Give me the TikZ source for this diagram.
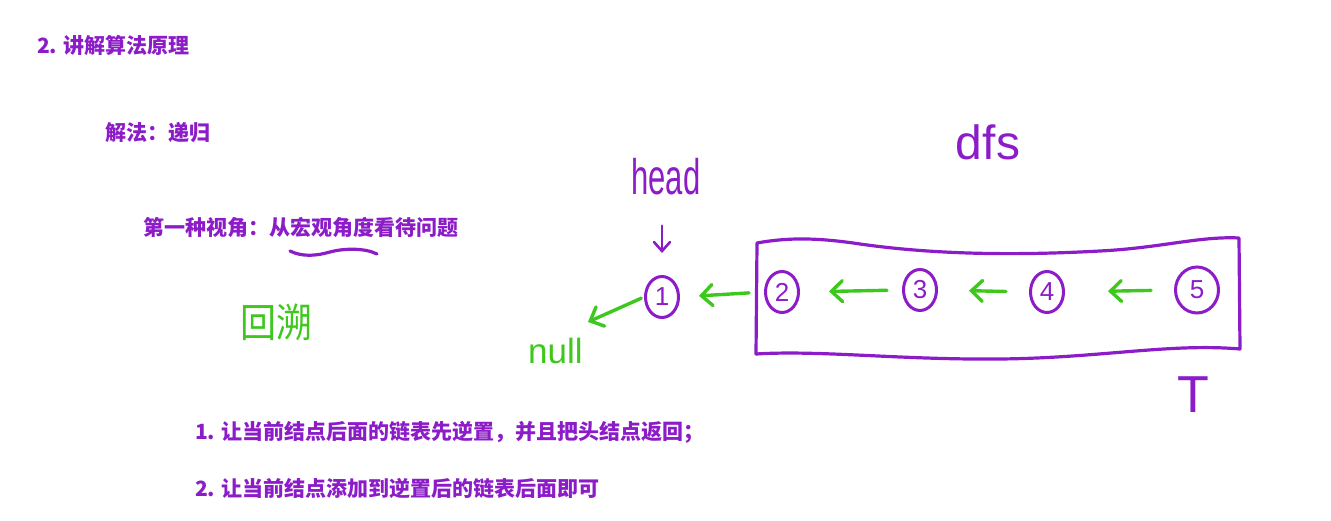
\documentclass[tikz,border=0pt]{standalone}
\usepackage{fontspec}
\usepackage{xcolor}
\usepackage{tikz}
\usetikzlibrary{arrows.meta, positioning, shapes.geometric}
\newfontfamily\cjk{Noto Sans CJK SC}
\newfontfamily\hand{Liberation Sans}
\definecolor{ink}{RGB}{140,28,200}
\definecolor{pen}{RGB}{62,200,30}
\tikzset{
    txt/.style={anchor=west, inner sep=0pt, text=ink, font=\cjk\bfseries\fontsize{21}{21}\selectfont},
    nd/.style={ellipse, draw=ink, line width=3pt, inner sep=0pt, minimum width=33pt, minimum height=41pt, text=ink, font=\hand\fontsize{26}{26}\selectfont},
    garrow/.style={pen, line width=3.4pt, line cap=round, -{Straight Barb[length=11pt, width=21pt, line cap=round]}},
    stroke/.style={ink, line width=3.2pt, line cap=round, line join=round}
}

\begin{document}
\begin{tikzpicture}[x=1pt, y=-1pt]
    \useasboundingbox (0,0) rectangle (1331,521);

    % 文字
    \node[txt] (title) at (37,45) {2. 讲解算法原理};
    \node[txt] (sol) at (105,133) {解法：递归};
    \node[txt] (view) at (143,228) {第一种视角：从宏观角度看待问题};
    \draw[stroke] (290,251) .. controls (302,257) and (316,256) .. (330,252) .. controls (345,248) and (365,248) .. (377,254);
    \node[txt] (stepa) at (195,432) {1. 让当前结点后面的链表先逆置，并且把头结点返回；};
    \node[txt] (stepb) at (195,488) {2. 让当前结点添加到逆置后的链表后面即可};

    % 手写
    \node[text=pen, font=\cjk\fontsize{40}{40}\selectfont, xscale=0.9] (back) at (276,322) {回溯};
    \node[text=pen, font=\hand\fontsize{35}{35}\selectfont, anchor=base west, inner sep=0pt] (null) at (528,363) {null};
    \node[text=ink, font=\hand\fontsize{50}{50}\selectfont, anchor=base, inner sep=0pt, xscale=0.62] (head) at (666,195) {head};
    \node[text=ink, font=\hand\fontsize{48}{48}\selectfont, anchor=base, inner sep=0pt] (dfs) at (988,160) {dfs};
    \node[text=ink, font=\hand\fontsize{52}{52}\selectfont, anchor=base, inner sep=0pt] (tl) at (1193,412) {T};
    \coordinate (nulltip) at (588,322);

    % 链表
    \node[nd] (n1) at (662,297) {1};
    \node[nd] (n2) at (782,292) {2};
    \node[nd] (n3) at (920,290) {3};
    \node[nd] (n4) at (1047,292) {4};
    \node[nd, minimum width=43pt, minimum height=46pt] (n5) at (1197,290) {5};

    \draw[ink, line width=2.6pt, line cap=round, -{Straight Barb[length=9pt, width=16pt, line cap=round]}, shorten <=30pt, shorten >=22pt] (head.south -| n1) -- (n1);
    \draw[garrow, shorten <=15pt, shorten >=19pt] (n2.west) -- (n1.east);
    \draw[garrow, shorten <=15pt, shorten >=29pt] (n3.west) -- (n2.east);
    \draw[garrow, shorten <=23pt, shorten >=31pt] (n4.west) -- (n3.east);
    \draw[garrow, shorten <=23pt, shorten >=43pt] (n5.west) -- (n4.east);
    \draw[garrow, shorten <=3pt] (n1.west) -- (nulltip);

    % 方框
    \draw[stroke] (757,243) .. controls (790,237) and (820,238) .. (860,244)
        .. controls (930,254) and (1010,256) .. (1100,251)
        .. controls (1160,248) and (1200,236) .. (1239,238)
        -- (1240,349)
        .. controls (1170,343) and (1100,358) .. (1000,359)
        .. controls (900,360) and (820,350) .. (756,354) -- cycle;
\end{tikzpicture}
\end{document}
